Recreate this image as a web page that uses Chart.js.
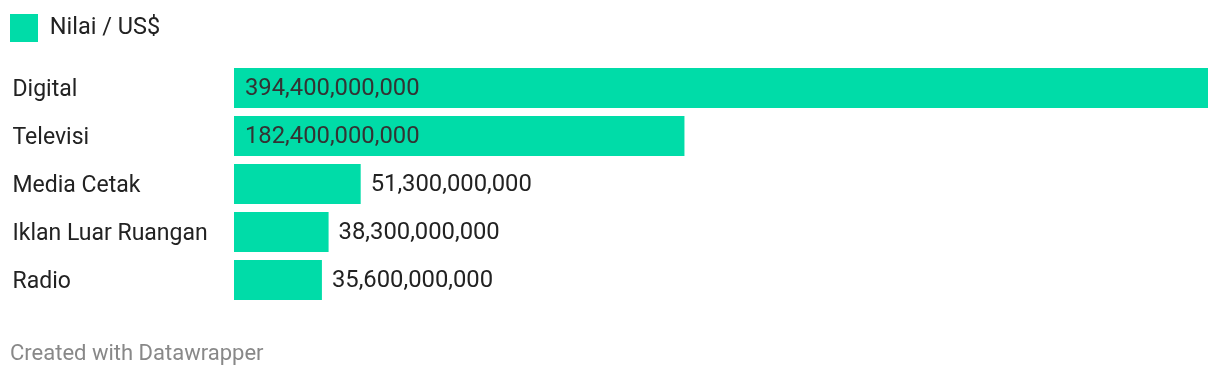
<!DOCTYPE html>
<html>
<head>
<meta charset="utf-8">
<script src="https://cdn.jsdelivr.net/npm/chart.js@4"></script>
<style>
  html, body { margin: 0; padding: 0; background: #fff; }
  #wrap { width: 1220px; height: 378px; position: relative; }
</style>
</head>
<body>
<div id="wrap"><canvas id="c" width="1220" height="378"></canvas></div>
<script>
const categories = ["Digital", "Televisi", "Media Cetak", "Iklan Luar Ruangan", "Radio"];
const values = [394400000000, 182400000000, 51300000000, 38300000000, 35600000000];
const seriesLabel = "Nilai / US$";
const footerText = "Created with Datawrapper";

const BAR = "#00dca8";
const TEXT = "#222222";
const TEXT_IN = "#333333";
const FONT = "Roboto";

const valueLabels = {
  id: "valueLabels",
  afterDatasetsDraw(chart) {
    const ctx = chart.ctx;
    const meta = chart.getDatasetMeta(0);
    ctx.save();
    ctx.font = "23.8px " + FONT;
    ctx.textBaseline = "middle";
    ctx.textAlign = "left";
    meta.data.forEach((bar, i) => {
      const txt = values[i].toLocaleString("en-US");
      const w = ctx.measureText(txt).width;
      const barW = bar.x - bar.base;
      let x;
      if (barW > w + 24) { x = bar.base + 11; ctx.fillStyle = TEXT_IN; }
      else { x = bar.x + 10; ctx.fillStyle = TEXT; }
      ctx.fillText(txt, x, bar.y + 1);
    });
    ctx.restore();
  }
};

const shiftLabels = {
  id: "shiftLabels",
  afterLayout(chart) {
    chart.scales.y.left += 2.5;
  }
};

new Chart(document.getElementById("c"), {
  type: "bar",
  data: {
    labels: categories,
    datasets: [{
      label: seriesLabel,
      data: values,
      backgroundColor: BAR,
      borderWidth: 0,
      barPercentage: 1,
      categoryPercentage: 40 / 48
    }]
  },
  options: {
    indexAxis: "y",
    responsive: false,
    animation: false,
    layout: { padding: { top: 14, left: 10, right: 12, bottom: 0 } },
    scales: {
      x: {
        position: "top",
        min: 0,
        max: 394400000000,
        display: true,
        grid: { display: false },
        border: { display: false },
        ticks: { display: false },
        afterFit(scale) { scale.height = 12; }
      },
      y: {
        grid: { display: false },
        border: { display: false },
        ticks: {
          crossAlign: "far",
          color: TEXT,
          font: { family: FONT, size: 23 },
          padding: 0,
          labelOffset: 2
        },
        afterFit(scale) { scale.width = 224; }
      }
    },
    plugins: {
      legend: {
        display: true,
        position: "top",
        align: "start",
        labels: {
          boxWidth: 28,
          boxHeight: 28,
          padding: 0,
          color: TEXT,
          font: { family: FONT, size: 23.5 }
        }
      },
      title: {
        display: true,
        position: "bottom",
        align: "start",
        text: footerText,
        color: "#888888",
        font: { family: FONT, size: 22, weight: "normal" },
        padding: { top: 36.8, bottom: 10.8 }
      },
      tooltip: { enabled: false }
    }
  },
  plugins: [valueLabels, shiftLabels]
});
</script>
</body>
</html>
